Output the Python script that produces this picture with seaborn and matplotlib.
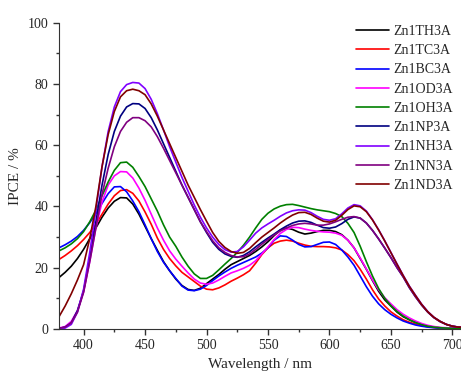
import numpy as np
import pandas as pd
import matplotlib
matplotlib.use("Agg")
import matplotlib.pyplot as plt
from matplotlib.ticker import MultipleLocator
import seaborn as sns

wavelength = list(range(380, 711, 5))

zn1th3a = [16.8, 18.5, 20.5, 23, 26, 29.5, 33, 36.5, 39.5, 41.7, 42.9, 42.8, 40.8, 37.5, 33.5, 29.5, 25.7, 22, 19, 16.3,
           14.2, 12.9, 12.6, 13.3, 14.8, 16.3, 17.8, 19.5, 21, 22, 23, 24, 25.3, 26.8, 28.5, 30.5, 32.3, 33, 32.5, 31.6,
           31, 31.3, 31.8, 32.2, 32.2, 31.8, 30.8, 29, 26.5, 23, 19.5, 15.8, 12.3, 9.5, 7.5, 5.5, 4, 3, 2.1, 1.4,
           0.9, 0.6, 0.4, 0.3, 0.2, 0.2, 0.2]
zn1tc3a = [22.7, 24, 25.5, 27.2, 29.2, 31.5, 34.2, 37.5, 40.8, 43.5, 45.2, 45.5, 44.3, 41.8, 38.2, 34.2, 29.7, 26, 23, 20.6,
           18.5, 17, 15.5, 14, 13, 12.8, 13.4, 14.4, 15.6, 16.6, 17.7, 19, 21.5, 24.3, 26.5, 28, 28.7, 29, 28.7, 28,
           27.4, 27, 26.9, 26.9, 26.8, 26.5, 25.8, 24.3, 22.3, 19.5, 16.3, 12.8, 9.8, 7.5, 5.6, 4.2, 3, 2.2, 1.6, 1.1,
           0.7, 0.5, 0.3, 0.2, 0.2, 0.2, 0.2]
zn1bc3a = [26.5, 27.5, 28.7, 30.2, 32.2, 34.7, 37.7, 41, 44.2, 46.4, 46.5, 44.8, 41.8, 38.3, 34, 29.5, 25.3, 21.8, 19, 16.5,
           14, 12.7, 12.5, 13, 14.2, 15.8, 17.3, 18.6, 19.8, 20.8, 21.7, 22.6, 23.5, 24.8, 26.5, 29, 30.4, 30.2, 29, 27.6,
           26.8, 26.9, 27.6, 28.3, 28.4, 27.6, 25.8, 23.5, 20.8, 17.3, 13.8, 10.7, 8.2, 6.3, 4.8, 3.6, 2.6, 1.9, 1.3, 0.9,
           0.6, 0.4, 0.3, 0.2, 0.2, 0.2, 0.2]
zn1od3a = [0.3, 0.8, 2.5, 6, 12, 22, 33, 41.5, 47, 50, 51.4, 51.3, 49.3, 46, 42, 37.5, 33, 29, 25.5, 22.8,
           20.5, 18.3, 16.3, 15, 14.6, 15, 16, 17.2, 18.3, 19, 19.8, 20.8, 22.3, 24.5, 26.8, 29.2, 31.2, 32.5, 33.2, 33.1,
           32.6, 32.2, 31.9, 31.7, 31.6, 31.3, 30.6, 29, 26.5, 23.2, 19.6, 16, 12.8, 10.2, 8.2, 6.3, 4.8, 3.6, 2.6, 1.8,
           1.2, 0.8, 0.5, 0.4, 0.3, 0.3, 0.3]
zn1oh3a = [25.5, 26.5, 27.8, 29.5, 31.8, 35, 38.8, 43.5, 48, 51.8, 54.3, 54.5, 52.8, 49.8, 46.5, 42.5, 38.5, 34, 30, 27,
           23.5, 20.5, 18, 16.5, 16.5, 17.5, 19.3, 21.2, 23, 25, 27.3, 30, 33, 35.8, 37.8, 39.2, 40.1, 40.6, 40.7, 40.3,
           39.8, 39.3, 38.9, 38.6, 38.3, 37.7, 36.7, 34.5, 31.5, 27, 22, 17.3, 13.2, 10, 7.6, 5.7, 4.2, 3, 2.1, 1.4,
           0.9, 0.6, 0.4, 0.3, 0.2, 0.2, 0.2]
zn1np3a = [0.2, 0.6, 2, 6, 12.5, 23, 35, 47, 57, 64.5, 69.5, 72.5, 73.6, 73.5, 72, 69, 65, 60.5, 56, 51.5,
           47, 43, 39, 35, 31.5, 28.3, 26, 24.5, 23.7, 23.4, 24, 25.2, 26.8, 28.3, 29.7, 31, 32.4, 33.6, 34.6, 35.2,
           35.3, 34.8, 33.9, 33.1, 32.9, 33.3, 34.4, 35.8, 36.6, 36.2, 34.6, 32.2, 29.4, 26.4, 23.3, 20, 17, 13.5, 10.5, 7.8,
           5.5, 3.7, 2.4, 1.5, 0.9, 0.6, 0.5]
zn1nh3a = [0, 0.3, 1.5, 5.5, 13, 25, 38.7, 53, 64.5, 72.5, 77.5, 79.8, 80.5, 80.3, 78.5, 75, 70.3, 65, 59.5, 54.5,
           49.5, 45, 40.5, 36.5, 33, 30, 27.6, 25.9, 25.1, 25.3, 26.8, 29, 31.3, 33, 34.3, 35.5, 36.8, 37.9, 38.6, 38.9,
           38.8, 38, 36.8, 35.8, 35.5, 36, 37.6, 39.5, 40.6, 40.2, 38.5, 35.7, 32.4, 28.8, 25, 21.2, 17.5, 14, 11, 8.1,
           5.7, 3.8, 2.5, 1.5, 0.9, 0.6, 0.5]
zn1nn3a = [0.2, 0.6, 2, 5.5, 12, 22, 33, 44, 52.5, 59.5, 64.5, 67.5, 69, 69, 68, 66, 62.8, 59, 55, 51,
           47, 43, 39, 35, 31.8, 28.8, 26.5, 25, 24, 23.5, 23.6, 24.5, 26, 27.7, 29.2, 30.7, 32, 33, 33.8, 34.3,
           34.5, 34.3, 33.9, 33.9, 34.3, 35, 35.8, 36.5, 36.7, 36.2, 34.6, 32.2, 29.4, 26.4, 23.3, 20, 17, 13.5, 10.5, 7.8,
           5.5, 3.7, 2.4, 1.5, 0.9, 0.6, 0.5]
zn1nd3a = [4, 7.5, 11.5, 16, 21, 29.5, 40, 53, 63.5, 71, 75.8, 77.8, 78.3, 77.8, 76.5, 73.5, 69.5, 65, 60.5, 56,
           51.5, 47, 43, 39, 35.2, 31.5, 28.6, 26.6, 25.3, 24.7, 25, 26.3, 28.2, 30, 31.5, 33, 34.6, 36, 37.2, 38,
           38.1, 37.4, 36.2, 35.2, 34.9, 35.5, 37.1, 39, 40.2, 39.9, 38.3, 35.6, 32.3, 28.7, 24.9, 21.1, 17.4, 13.9, 10.9, 8,
           5.6, 3.8, 2.5, 1.5, 0.9, 0.6, 0.5]

names = ["Zn1TH3A", "Zn1TC3A", "Zn1BC3A", "Zn1OD3A", "Zn1OH3A",
         "Zn1NP3A", "Zn1NH3A", "Zn1NN3A", "Zn1ND3A"]
series = [zn1th3a, zn1tc3a, zn1bc3a, zn1od3a, zn1oh3a, zn1np3a, zn1nh3a, zn1nn3a, zn1nd3a]
colors = ["#000000", "#ff0000", "#0000ff", "#ff00ff", "#008000",
          "#000080", "#8000ff", "#800080", "#800000"]

frames = [pd.DataFrame({"wl": wavelength, "ipce": s, "dye": n}) for n, s in zip(names, series)]
df = pd.concat(frames, ignore_index=True)

sns.set_style("ticks")
plt.rcParams["font.family"] = ["Liberation Serif", "DejaVu Serif"]

fig = plt.figure(figsize=(4.61, 3.79), dpi=100)
ax = fig.add_axes([0.128, 0.132, 0.872, 0.808])

sns.lineplot(data=df, x="wl", y="ipce", hue="dye", hue_order=names,
             palette=colors, linewidth=1.2, ax=ax)

ax.set_xlim(380, 707)
ax.set_ylim(0, 100)
ax.xaxis.set_major_locator(MultipleLocator(50))
ax.xaxis.set_minor_locator(MultipleLocator(25))
ax.yaxis.set_major_locator(MultipleLocator(20))
ax.yaxis.set_minor_locator(MultipleLocator(10))
ax.tick_params(which="major", direction="out", length=4, width=1, labelsize=10, color="#333333")
ax.tick_params(which="minor", direction="out", length=2.5, width=1, color="#333333")
for side in ["top", "right"]:
    ax.spines[side].set_visible(False)
for side in ["left", "bottom"]:
    ax.spines[side].set_color("#333333")

ax.set_xlabel("Wavelength / nm", fontsize=11)
ax.set_ylabel("IPCE / %", fontsize=11)

# legend sits in the empty top-right corner, no frame
ax.legend(loc="upper right", bbox_to_anchor=(1.0, 1.02), frameon=False, fontsize=10,
          handlelength=2.4, handletextpad=0.3, labelspacing=0.45, borderaxespad=0.2)

fig.savefig("out.png", dpi=100)
